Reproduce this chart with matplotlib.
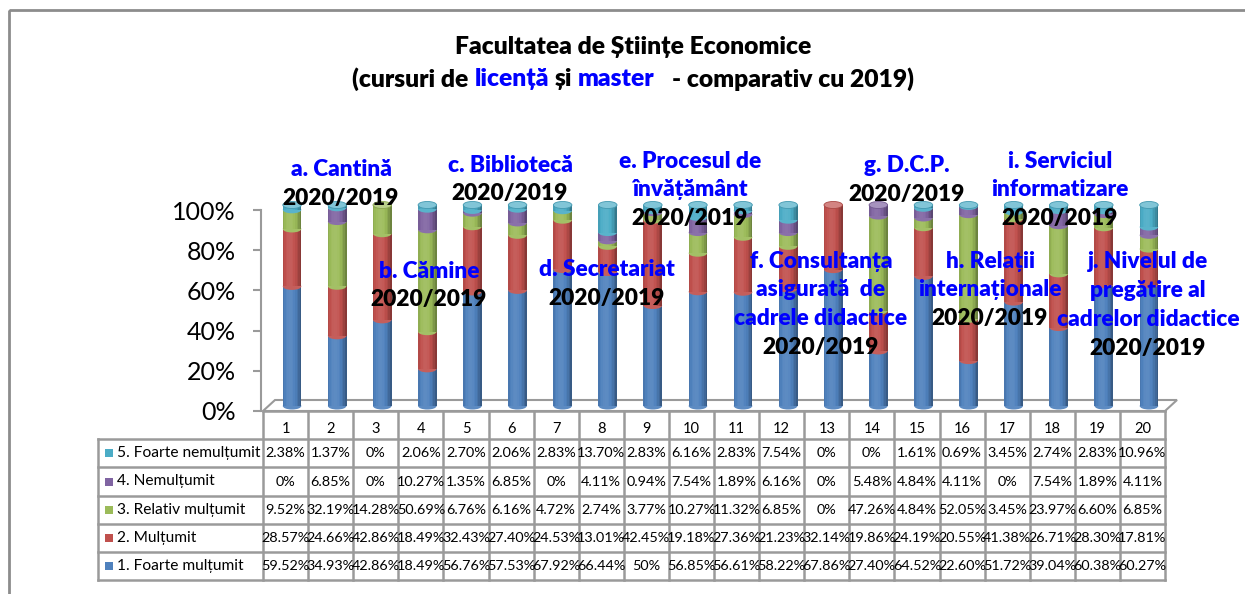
import numpy as np
import matplotlib
matplotlib.use('Agg')
import matplotlib.pyplot as plt
from matplotlib.patches import Ellipse, Polygon, Rectangle
from matplotlib.lines import Line2D
from matplotlib.transforms import Affine2D, ScaledTranslation
from matplotlib.colors import to_rgb

plt.rcParams['font.family'] = ['Lato', 'Open Sans', 'DejaVu Sans']

# ---- data (percent) ----
columns = [str(i) for i in range(1, 21)]
series_names = ['1. Foarte mulțumit', '2. Mulțumit', '3. Relativ mulțumit',
                '4. Nemulțumit', '5. Foarte nemulțumit']
foarte_multumit = [59.52, 34.93, 42.86, 18.49, 56.76, 57.53, 67.92, 66.44, 50, 56.85,
                   56.61, 58.22, 67.86, 27.40, 64.52, 22.60, 51.72, 39.04, 60.38, 60.27]
multumit = [28.57, 24.66, 42.86, 18.49, 32.43, 27.40, 24.53, 13.01, 42.45, 19.18,
            27.36, 21.23, 32.14, 19.86, 24.19, 20.55, 41.38, 26.71, 28.30, 17.81]
relativ_multumit = [9.52, 32.19, 14.28, 50.69, 6.76, 6.16, 4.72, 2.74, 3.77, 10.27,
                    11.32, 6.85, 0, 47.26, 4.84, 52.05, 3.45, 23.97, 6.60, 6.85]
nemultumit = [0, 6.85, 0, 10.27, 1.35, 6.85, 0, 4.11, 0.94, 7.54,
              1.89, 6.16, 0, 5.48, 4.84, 4.11, 0, 7.54, 1.89, 4.11]
foarte_nemultumit = [2.38, 1.37, 0, 2.06, 2.70, 2.06, 2.83, 13.70, 2.83, 6.16,
                     2.83, 7.54, 0, 0, 1.61, 0.69, 3.45, 2.74, 2.83, 10.96]
series = [foarte_multumit, multumit, relativ_multumit, nemultumit, foarte_nemultumit]
colors = ['#4F81BD', '#C0504D', '#9BBB59', '#8064A2', '#4BACC6']

section_titles = ['a. Cantină', 'b. Cămine', 'c. Bibliotecă', 'd. Secretariat',
                  'e. Procesul de\nînvățământ', 'f. Consultanța\nasigurată  de\ncadrele didactice',
                  'g. D.C.P.', 'h. Relații\ninternaționale', 'i. Serviciul\ninformatizare',
                  'j. Nivelul de\npregătire al\ncadrelor didactice']
year_label = '2020/2019'
# first-line centre of each section label, in pixels from the top-left
section_pos = [(341, 170), (429, 271), (510, 165), (607, 270), (690, 161),
               (821, 261), (907, 166), (990, 261), (1060, 161), (1148, 262)]

W, H = 1245, 594
BLUE = '#0000FF'
GRID = '#9a9a9a'
LABEL_FS = 16.3
LABEL_W = 'heavy'

fig = plt.figure(figsize=(W / 100, H / 100), dpi=100)
pix = Affine2D().scale(1 / W, -1 / H).translate(0, 1) + fig.transFigure

# chart border (right and bottom edges lie outside the picture)
fig.add_artist(Rectangle((9, 10), 1400, 800, transform=pix, fill=False, ec='#8c8c8c', lw=2))


def shade(c, t):
    rgb = np.array(to_rgb(c))
    b = 1.08 - 0.3 * (t + 0.2) ** 2
    if b < 1:
        return tuple(rgb * b)
    return tuple(rgb + (1 - rgb) * (b - 1))


def lighten(c, f):
    rgb = np.array(to_rgb(c))
    return tuple(rgb + (1 - rgb) * f)


# ---- plot area ----
ax_l, ax_r, ax_t, ax_b = 261, 1165, 210, 411
ax = fig.add_axes([ax_l / W, 1 - ax_b / H, (ax_r - ax_l) / W, (ax_b - ax_t) / H])
ax.patch.set_visible(False)
for s in ['top', 'right', 'bottom']:
    ax.spines[s].set_visible(False)
ax.spines['left'].set_color(GRID)
ax.spines['left'].set_linewidth(1.5)

# floor
ax.add_patch(Polygon([(263, 411), (1165, 411), (1177, 400), (275, 400)], closed=True,
                     transform=pix, fc='white', ec=GRID, lw=1.5, zorder=0.5, clip_on=False))

x = np.arange(1, 21)
depth = ax.transData + ScaledTranslation(6.5 / 100, 5 / 100, fig.dpi_scale_trans)
bar_w = 0.41
ell_h = 0.035
nstrip = 12
edges = np.linspace(-bar_w / 2, bar_w / 2, nstrip + 1)
mids = (edges[:-1] + edges[1:]) / 2

bottom = np.zeros(len(x))
for k, (vals, c) in enumerate(zip(series, colors)):
    v = np.array(vals) / 100
    for xi, b0, vi in zip(x, bottom, v):
        if vi > 0:
            ax.add_patch(Ellipse((xi, b0), bar_w, ell_h, transform=depth, fc=shade(c, -0.2),
                                 lw=0, zorder=2, clip_on=False))
    for m in mids:
        ax.bar(x + m, v, width=bar_w / nstrip * 1.15, bottom=bottom, color=shade(c, m / (bar_w / 2)),
               lw=0, antialiased=False, transform=depth, clip_on=False, zorder=2)
    bottom += v

# top caps
stack = np.array(series)
for i, xi in enumerate(x):
    top_k = max(k for k in range(len(series)) if stack[k, i] > 0)
    ax.add_patch(Ellipse((xi, bottom[i]), bar_w, ell_h, transform=depth,
                         fc=lighten(colors[top_k], 0.3), ec=shade(colors[top_k], 0.6), lw=0.6,
                         zorder=3, clip_on=False))

# x range set so that the columns still line up with the table (263..1165 px)
ax.set_xlim(0.5 - 2 / 45.1, 20.5)
ax.set_ylim(0, 1)
ax.set_xticks([])
ax.set_yticks(np.linspace(0, 1, 6))
ax.set_yticklabels([f'{p}%' for p in range(0, 101, 20)])
ax.tick_params(axis='y', length=6, width=1.5, color=GRID, pad=12, labelsize=18)

# ---- section labels ----
line_h = 28.8
for title, (cx, cy) in zip(section_titles, section_pos):
    lines = title.split('\n')
    for j, ln in enumerate(lines):
        fig.text(cx, cy + j * line_h, ln, transform=pix, ha='center', va='center',
                 fontsize=LABEL_FS, fontweight=LABEL_W, color=BLUE, zorder=5)
    fig.text(cx, cy + len(lines) * line_h, year_label, transform=pix, ha='center', va='center',
             fontsize=LABEL_FS, fontweight=LABEL_W, color='black', zorder=5)

# ---- title ----
TITLE_FS = 17.7
title_kw = dict(fontsize=TITLE_FS, fontweight=LABEL_W, transform=pix, va='center')
fig.text(633, 47, 'Facultatea de Științe Economice', ha='center', **title_kw)

renderer = fig.canvas.get_renderer()


def text_w(s):
    t = fig.text(0, 0, s, fontsize=TITLE_FS, fontweight=LABEL_W)
    w = t.get_window_extent(renderer).width
    t.remove()
    return w


parts = [('(cursuri de ', 'black'), ('licență', BLUE), (' și ', 'black'),
         ('master', BLUE), ('   - comparativ cu 2019)', 'black')]
full = ''.join(p for p, _ in parts)
x0 = 633 - text_w(full) / 2
prefix = ''
for p, col in parts:
    prefix += p
    start = text_w(prefix.rstrip()) - text_w(p.strip())
    fig.text(x0 + start, 79, p.strip(), ha='left', color=col, **title_kw)

# ---- data table ----
tbl_left, tbl_l0, tbl_r = 98, 263, 1165
row_h = 28.2
col_x = np.linspace(tbl_l0, tbl_r, len(columns) + 1)
row_y = ax_b + row_h * np.arange(len(series) + 2)

for k, yy in enumerate(row_y):
    xs = tbl_l0 if k == 0 else tbl_left
    fig.add_artist(Line2D([xs, tbl_r], [yy, yy], transform=pix, color=GRID, lw=1.8))
for xx in col_x:
    fig.add_artist(Line2D([xx, xx], [row_y[0], row_y[-1]], transform=pix, color=GRID, lw=1.8))
fig.add_artist(Line2D([tbl_left, tbl_left], [row_y[1], row_y[-1]], transform=pix, color=GRID, lw=1.8))

cx_cols = (col_x[:-1] + col_x[1:]) / 2
for c, lab in zip(cx_cols, columns):
    fig.text(c, row_y[0] + row_h / 2 + 4, lab, transform=pix, ha='center', va='center', fontsize=10.5)


def fmt(v):
    return f'{int(v)}%' if float(v).is_integer() else f'{v:.2f}%'


for r, k in enumerate(range(len(series) - 1, -1, -1)):
    yc = row_y[r + 1] + row_h / 2
    fig.add_artist(Rectangle((105, yc - 4), 8, 8, transform=pix, fc=colors[k], ec='none'))
    fig.text(117, yc, series_names[k], transform=pix, ha='left', va='center', fontsize=11.2)
    for c, v in zip(cx_cols, series[k]):
        fig.text(c, yc, fmt(v), transform=pix, ha='center', va='center', fontsize=10.4)

fig.savefig('out.png', dpi=100)
